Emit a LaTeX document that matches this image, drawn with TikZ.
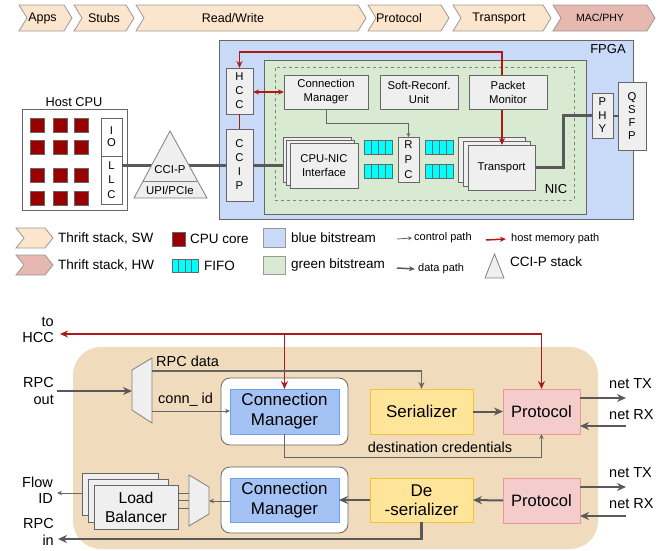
\documentclass[tikz,border=0pt]{standalone}
\usepackage{fontspec}
\setmainfont{Liberation Sans}
\usetikzlibrary{arrows.meta,calc}

\definecolor{peach}{HTML}{FCE5CD}
\definecolor{hwpink}{HTML}{E6B8AF}
\definecolor{chevedge}{HTML}{999999}
\definecolor{bluebs}{HTML}{C9DAF8}
\definecolor{greenbs}{HTML}{D9EAD3}
\definecolor{boxgray}{HTML}{EFEFEF}
\definecolor{edgegray}{HTML}{666666}
\definecolor{linegray}{HTML}{595959}
\definecolor{cpured}{HTML}{990000}
\definecolor{memred}{HTML}{B01818}
\definecolor{fifocyan}{HTML}{00FFFF}
\definecolor{tanbg}{HTML}{F0DCBC}
\definecolor{cmblue}{HTML}{A4C2F4}
\definecolor{cmedge}{HTML}{6D9EEB}
\definecolor{seryel}{HTML}{FFE599}
\definecolor{seredge}{HTML}{F1C232}
\definecolor{protpink}{HTML}{F4CCCC}
\definecolor{protedge}{HTML}{EA9999}

\newcommand\fsTop{\fontsize{11.3}{14}\selectfont}
\newcommand\fsBan{\fontsize{12.5}{14}\selectfont}
\newcommand\fsMac{\fontsize{10.5}{12}\selectfont}
\newcommand\fsLeg{\fontsize{13.5}{16}\selectfont}
\newcommand\fsSm{\fontsize{11}{13}\selectfont}
\newcommand\fsBig{\fontsize{17}{20}\selectfont}
\newcommand\fsLab{\fontsize{14.5}{16.5}\selectfont}

% chevron: L R top bottom fill textx text name
\newcommand\chev[8]{%
  \filldraw[fill=#5, draw=chevedge, line width=0.8pt]
    (#1,#3) -- ({#2-8},#3) -- (#2,{(#3+#4)/2}) -- ({#2-8},#4) -- (#1,#4) -- ({#1+8},{(#3+#4)/2}) -- cycle;
  \node[inner sep=0pt] (#8) at (#6,{(#3+#4)/2}) {#7};}

\newcommand\fifo[2]{%
  \filldraw[fill=fifocyan, draw=edgegray, line width=0.7pt] (#1,#2) rectangle ++(28,14);
  \foreach \k in {7,14,21} {\draw[edgegray, line width=0.5pt] ({#1+\k},#2) -- ++(0,14);}}

\begin{document}
\begin{tikzpicture}[x=1pt,y=-1pt,
  box/.style n args={4}{minimum width={(#3-#1)*1pt}, minimum height={(#4-#2)*1pt},
      at={({(#1+#3)/2},{(#2+#4)/2})}, inner sep=0pt, outer sep=0pt},
  gbox/.style={draw=edgegray, fill=boxgray, line width=0.8pt, align=center, font=\fsTop},
  wbox/.style={draw=edgegray, fill=white, line width=0.8pt, align=center},
  cmbox/.style={draw=cmedge, fill=cmblue, line width=0.8pt, align=center, font=\fsBig},
  serbox/.style={draw=seredge, fill=seryel, line width=0.8pt, align=center, font=\fsBig},
  protbox/.style={draw=protedge, fill=protpink, line width=0.8pt, align=center, font=\fontsize{16.5}{19}\selectfont},
  dataline/.style={draw=linegray, line width=3pt},
  memline/.style={draw=memred, line width=1.5pt},
  ctrl/.style={draw=edgegray, line width=0.8pt},
  thickarr/.style={draw=linegray, line width=2pt, -{Stealth[length=9pt,width=8pt]}},
  thinarr/.style={draw=edgegray, line width=0.9pt, -{Stealth[length=5pt,width=4.5pt]}},
  lbl/.style={inner sep=0pt, font=\fsLab}
]
\useasboundingbox (0,0) rectangle (665,550);

% ---------- banner ----------
\chev{19}{72}{5}{31}{peach}{42.5}{\fsBan Apps}{bapps}
\chev{74}{134}{5}{31}{peach}{104}{\fsBan Stubs}{bstubs}
\chev{136}{366}{5}{31}{peach}{233}{\fsBan Read/Write}{brw}
\chev{368}{449}{5}{31}{peach}{399}{\fsBan Protocol}{bprot}
\chev{453}{551}{5}{31}{peach}{499}{\fsBan Transport}{btrans}
\chev{553}{655}{5}{31}{hwpink}{600}{\fsMac MAC/PHY}{bmac}

% ---------- top diagram ----------
\node[box={219}{40}{633}{219}, draw=edgegray, fill=bluebs, line width=0.8pt] (fpga) {};
\node[inner sep=0pt, font=\fontsize{13}{15}\selectfont] (fpgalbl) at (608,49) {FPGA};
\node[box={264}{60}{586}{214}, draw=edgegray, fill=greenbs, line width=0.8pt] (nic) {};
\node[box={275}{67}{574}{200}, draw=gray, dashed, line width=0.8pt] (dash) {};
\node[inner sep=0pt, font=\fontsize{13}{15}\selectfont] (niclbl) at (556,189) {NIC};

% host CPU
\node[inner sep=0pt, font=\fontsize{12.8}{15}\selectfont] (hostlbl) at (74,102) {Host CPU};
\node[wbox, box={22}{109}{127}{210}] (host) {};
\foreach \xx in {30,53,74}{
  \foreach \yy in {118,140,168,191}{
    \filldraw[fill=cpured, draw=edgegray, line width=0.5pt] (\xx,\yy) rectangle ++(14,14);}}
\node[wbox, box={101}{118}{122}{156}, font=\fontsize{11.3}{12.3}\selectfont] (io) {I\\O};
\node[wbox, box={101}{156}{122}{204}, font=\fontsize{11.3}{14.3}\selectfont] (llc) {L\\L\\C};

% HCC / CCIP
\node[gbox, box={226}{68}{253}{114}] (hcc) {H\\C\\C};
\node[gbox, box={226}{129}{253}{201}] (ccip) {C\\C\\I\\P};

% thick data line host -> CCIP
\draw[dataline] (llc.east |- ccip) -- (ccip.west);

% CCI-P triangle
\filldraw[fill=boxgray, draw=gray, line width=0.8pt] (170,131) -- (207,198) -- (134,198) -- cycle;
\draw[gray, line width=0.8pt] (142.8,181) -- (197.2,181);
\node[inner sep=0pt, font=\fontsize{11.4}{13}\selectfont] (ccipt) at (170,170) {CCI-P};
\node[inner sep=0pt, font=\fontsize{11.4}{13}\selectfont] (upi) at (170,190) {UPI/PCIe};

% boxes in NIC
\node[gbox, box={284}{75}{368}{109}] (cm) {Connection\\Manager};
\node[gbox, box={380}{75}{458}{109}] (sru) {Soft-Reconf.\\Unit};

\node[gbox, box={283}{137}{351}{182}] (cpu3) {};
\node[gbox, box={286.5}{140}{354.5}{185}] (cpu2) {};
\node[gbox, box={290}{143}{358}{188}] (cpu1) {CPU-NIC\\Interface};

\draw[dataline] (ccip.east) -- (cpu3.west |- ccip.east);

\fifo{364}{140}
\fifo{364}{164}
\fifo{425}{140}
\fifo{425}{164}
\node[gbox, box={398}{137}{419}{182}, font=\fontsize{11.3}{15}\selectfont] (rpc) {R\\P\\C};

\node[gbox, box={458}{137}{525}{182}] (tr3) {};
\node[gbox, box={463}{141}{530}{186}] (tr2) {};
\node[gbox, box={468}{145}{535}{190}] (tr1) {Transport};

% PHY / QSFP
\node[gbox, box={592}{93}{613}{138}, font=\fontsize{11.3}{13.5}\selectfont] (phy) {P\\H\\Y};
\node[gbox, box={618}{82}{646}{150}, font=\fontsize{11.3}{13}\selectfont] (qsfp) {Q\\S\\F\\P};
\draw[dataline] (tr1.east) -- ++(28,0) |- (phy.west);
\draw[draw=linegray, line width=2pt] (phy.east) -- (qsfp.west |- phy.east);

% host memory path (red)
\draw[memline, {Stealth[length=7pt,width=6pt]}-{Stealth[length=7pt,width=6pt]}] (hcc.north) -- ++(0,-16) -| (tr1.north -| 502,0);
\node[gbox, box={469}{75}{547}{109}] (pm) {Packet\\Monitor};
\draw[memline] (hcc.south) -- (ccip.north);
\draw[memline, {Stealth[length=6pt,width=5pt]}-{Stealth[length=6pt,width=5pt]}] (hcc.east |- cm.west) -- (cm.west);

% control path
\draw[ctrl, -{Stealth[length=4pt,width=4pt]}] (cm.south) -- ++(0,14) -| (rpc.north);

% ---------- legend ----------
\chev{16}{53}{228}{248}{peach}{0}{}{lchsw}
\chev{16}{53}{255}{275}{hwpink}{0}{}{lchhw}
\node[font=\fsLeg, anchor=west, inner sep=0pt] (lsw) at (58,238) {Thrift stack, SW};
\node[font=\fsLeg, anchor=west, inner sep=0pt] (lhw) at (58,265) {Thrift stack, HW};
\filldraw[fill=cpured, draw=edgegray, line width=0.6pt] (172,232) rectangle (185,246);
\node[font=\fsLeg, anchor=west, inner sep=0pt] (lcpu) at (190,239) {CPU core};
\filldraw[fill=fifocyan, draw=edgegray, line width=0.6pt] (172,259) rectangle (198,272);
\foreach \k in {6.5,13,19.5} {\draw[edgegray, line width=0.5pt] ({172+\k},259) -- ++(0,13);}
\node[font=\fsLeg, anchor=west, inner sep=0pt] (lfifo) at (204,266) {FIFO};
\filldraw[fill=bluebs, draw=chevedge, line width=0.8pt] (263,228) rectangle (285,247);
\node[font=\fsLeg, anchor=west, inner sep=0pt] (lblue) at (291,238) {blue bitstream};
\filldraw[fill=greenbs, draw=chevedge, line width=0.8pt] (263,256) rectangle (285,274);
\node[font=\fsLeg, anchor=west, inner sep=0pt] (lgreen) at (291,265) {green bitstream};
\coordinate (lca) at (397,239);
\node[font=\fsSm, anchor=west, inner sep=0pt] (lctrl) at (414,238) {control path};
\draw[ctrl, -{Stealth[length=4pt,width=4pt]}] (lca) -- ([xshift=-2pt]lctrl.west);
\coordinate (lda) at (397,268);
\node[font=\fsSm, anchor=west, inner sep=0pt] (ldata) at (418,269) {data path};
\draw[draw=linegray, line width=1.5pt, -{Stealth[length=6pt,width=5pt]}] (lda) -- ([xshift=-3pt]ldata.west);
\coordinate (lma) at (486,240);
\node[font=\fsSm, anchor=west, inner sep=0pt] (lmem) at (511,239) {host memory path};
\draw[memline, -{Stealth[length=6pt,width=5pt]}] (lma) -- ([xshift=-5pt]lmem.west);
\filldraw[fill=boxgray, draw=gray, line width=0.8pt] (494.5,254) -- (504,278) -- (485,278) -- cycle;
\node[font=\fsLeg, anchor=west, inner sep=0pt] (lccip) at (510,262) {CCI-P stack};

% ---------- bottom diagram ----------
\node[box={73}{347}{598}{549}, fill=tanbg, rounded corners=28pt] (tan) {};

\node[wbox, box={221}{378}{348}{445}, rounded corners=9pt] (wb1) {};
\node[cmbox, box={230}{389}{339}{434}] (cm1) {Connection\\Manager};
\node[serbox, box={370}{389}{473}{434}] (ser) {Serializer};
\node[protbox, box={503}{389}{580}{434}] (p1) {Protocol};

\node[wbox, box={221}{467}{348}{533}, rounded corners=9pt] (wb2) {};
\node[cmbox, box={230}{478}{339}{522}] (cm2) {Connection\\Manager};
\node[serbox, box={370}{478}{473}{522}, font=\fontsize{17}{19}\selectfont] (des) {De\\-serializer};
\node[protbox, box={503}{478}{580}{523}] (p2) {Protocol};

\node[gbox, box={82}{473}{158}{515}] (lb3) {};
\node[gbox, box={88}{479}{168}{522}] (lb2) {};
\node[gbox, box={94}{485}{178}{529}, font=\fontsize{15.7}{19}\selectfont] (lb1) {Load\\Balancer};

% muxes
\filldraw[fill=boxgray, draw=gray, line width=0.8pt] (132,370) -- (152,358) -- (152,423) -- (132,410) -- cycle;
\coordinate (mux1in) at (132,391);
\coordinate (mux1a) at (152,371);
\coordinate (mux1b) at (152,411);
\filldraw[fill=boxgray, draw=gray, line width=0.8pt] (189,475) -- (209,487) -- (209,514) -- (189,526) -- cycle;
\coordinate (mux2in) at (209,501);
\coordinate (mux2a) at (189,493);
\coordinate (mux2b) at (189,500.5);
\coordinate (mux2c) at (189,508);

% labels
\node[lbl, align=right, anchor=east, font=\fontsize{14.5}{16}\selectfont] (tohcc) at (54,330) {to\\HCC};
\node[lbl, align=right, anchor=east, font=\fontsize{14.5}{17}\selectfont] (rpcout) at (54,391) {RPC\\out};
\node[lbl, align=right, anchor=east, font=\fontsize{14.5}{16}\selectfont] (flowid) at (53,490) {Flow\\ID};
\node[lbl, align=right, anchor=east, font=\fontsize{14.5}{16.5}\selectfont] (rpcin) at (54,532) {RPC\\in};
\node[lbl, anchor=west] (rpcdata) at (156,361) {RPC data};
\node[lbl, anchor=west] (connid) at (158,400) {conn\_ id};
\node[lbl] (dest) at (440,447) {destination credentials};
\node[lbl, anchor=west] (ntx1) at (609,384) {net TX};
\node[lbl, anchor=west] (nrx1) at (609,415) {net RX};
\node[lbl, anchor=west] (ntx2) at (609,473) {net TX};
\node[lbl, anchor=west] (nrx2) at (609,504) {net RX};

% red (host memory) paths
\coordinate (hccend) at (60,334);
\draw[memline, {Stealth[length=8pt,width=7pt]}-{Stealth[length=8pt,width=7pt]}] (hccend) -| (p1.north);
\draw[memline, -{Stealth[length=8pt,width=7pt]}] (cm1.north |- hccend) -- (cm1.north);

% top row connectors
\draw[thickarr] (rpcout.east |- mux1in) ++(3,0) -- (mux1in);
\draw[draw=edgegray, line width=1.3pt, -{Stealth[length=7pt,width=6pt]}] (mux1a) -| (ser.north);
\draw[thinarr] (mux1b) -- (cm1.west |- mux1b);
\draw[thickarr] (ser.east) -- (p1.west);
\coordinate (tx1end) at (626,398);
\coordinate (rx1start) at (626,426);
\draw[thickarr] (p1.east |- tx1end) -- (tx1end);
\draw[thickarr] (rx1start) -- (p1.east |- rx1start);
\draw[thinarr] (cm1.south) -- ++(0,23) -| (p1.south);

% bottom row connectors
\draw[thickarr] (p2.west) -- (des.east);
\draw[thickarr] (des.west) -- (cm2.east);
\draw[thinarr] (cm2.west |- mux2in) -- (mux2in);
\draw[draw=edgegray, line width=0.8pt] (lb1.east |- mux2a) -- (mux2a);
\draw[draw=edgegray, line width=0.8pt] (lb1.east |- mux2b) -- (mux2b);
\draw[draw=edgegray, line width=0.8pt] (lb1.east |- mux2c) -- (mux2c);
\coordinate (flowend) at (57,493);
\draw[thinarr] (lb3.west |- flowend) -- (flowend);
\coordinate (rpcinend) at (58,539);
\draw[draw=linegray, line width=2.5pt, -{Stealth[length=9pt,width=8pt]}] (des.south) |- (rpcinend);
\coordinate (tx2end) at (626,487);
\coordinate (rx2start) at (626,516);
\draw[thickarr] (p2.east |- tx2end) -- (tx2end);
\draw[thickarr] (rx2start) -- (p2.east |- rx2start);

\end{tikzpicture}
\end{document}
